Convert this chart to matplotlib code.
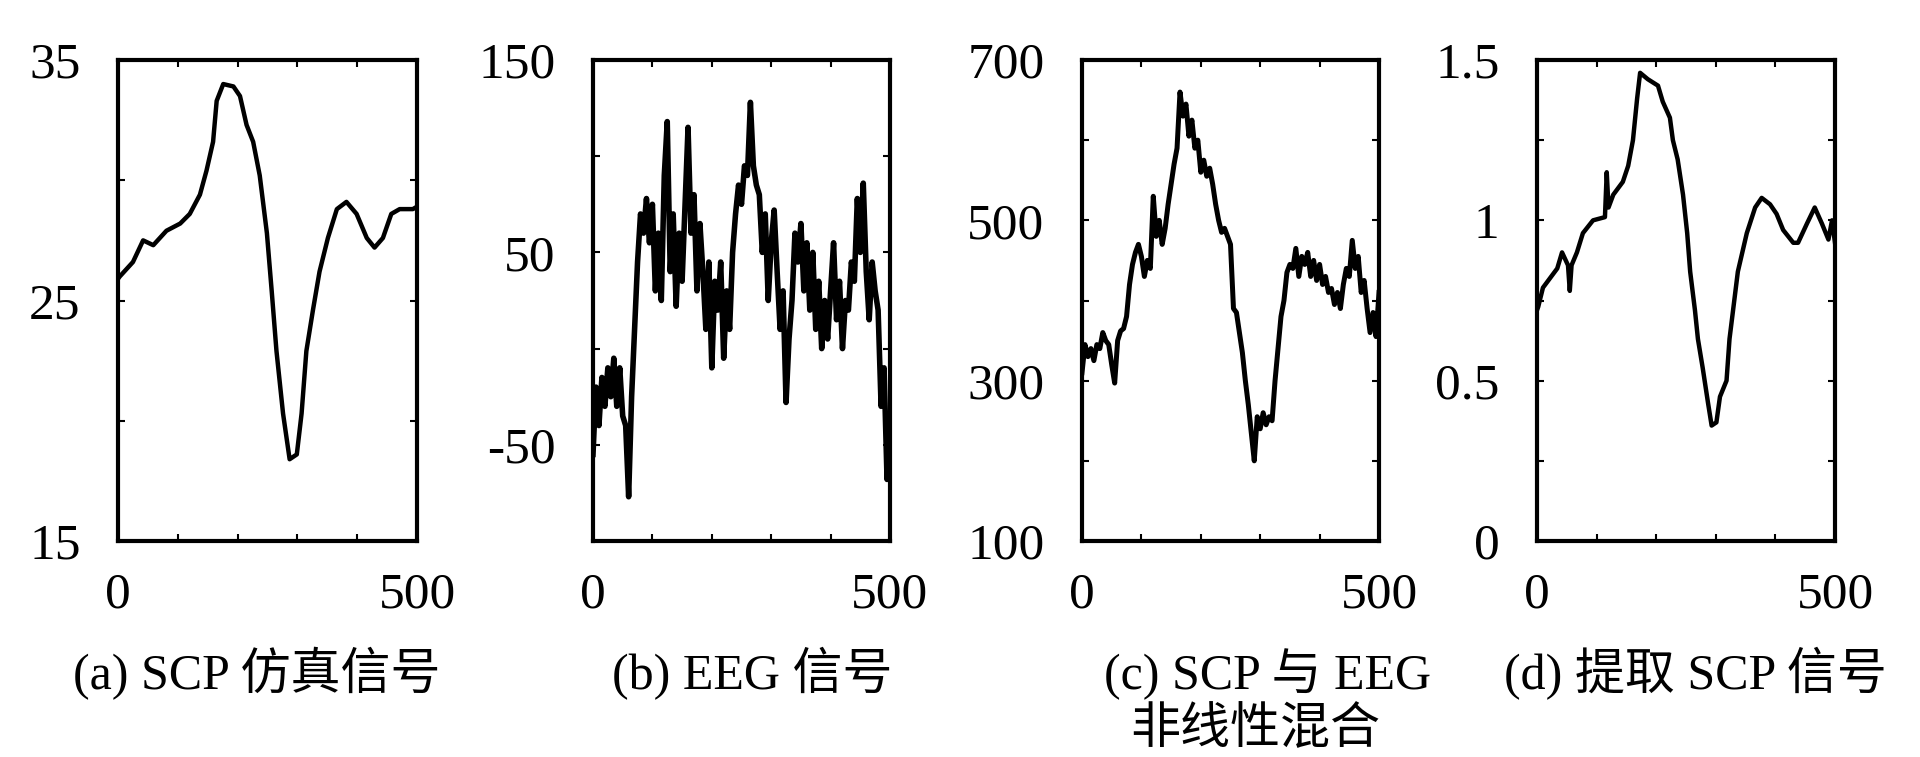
import matplotlib
matplotlib.use('Agg')
from matplotlib import pyplot as plt
from matplotlib.ticker import FormatStrFormatter

# (a) SCP 仿真信号
scp_x = [0, 3, 25, 42, 59, 81, 104, 120, 137, 148, 159, 165, 176, 193, 204, 215, 226, 237,
         249, 257, 265, 276, 287, 299, 307, 315, 326, 337, 351, 366, 382, 399, 416, 429,
         443, 457, 471, 493, 500]
scp_y = [25.9, 26.0, 26.6, 27.5, 27.3, 27.9, 28.2, 28.6, 29.4, 30.4, 31.6, 33.3, 34.0, 33.9,
         33.5, 32.3, 31.6, 30.2, 27.8, 25.4, 22.9, 20.3, 18.4, 18.6, 20.3, 22.9, 24.6, 26.2,
         27.6, 28.8, 29.1, 28.6, 27.6, 27.2, 27.6, 28.6, 28.8, 28.8, 28.9]

# (b) EEG 信号, 每 5 个采样点读一个值
eeg_y = [-55, -20, -40, -15, -30, -10, -25, -5, -30, -10,
         -35, -40, -77, -25, 10, 45, 70, 60, 78, 55,
         75, 30, 60, 25, 90, 118, 40, 70, 22, 60,
         35, 75, 115, 60, 80, 30, 65, 40, 10, 45,
         -10, 35, 20, 45, -5, 30, 10, 50, 70, 85,
         75, 95, 90, 128, 95, 85, 80, 50, 70, 25,
         55, 72, 40, 10, 30, -28, 5, 25, 60, 45,
         65, 30, 55, 20, 50, 10, 35, 0, 25, 5,
         30, 55, 15, 35, 0, 25, 20, 45, 35, 78,
         50, 86, 40, 15, 45, 30, 20, -30, -10, -68,
         -45]

# (c) SCP 与 EEG 非线性混合, 每 5 个采样点
mix_y = [310, 345, 330, 340, 325, 345, 340, 360, 350, 345,
         320, 297, 350, 362, 365, 380, 420, 445, 460, 470,
         455, 430, 450, 440, 530, 480, 500, 470, 490, 520,
         545, 570, 590, 660, 630, 645, 605, 625, 590, 600,
         560, 575, 555, 565, 545, 520, 500, 485, 490, 480,
         470, 390, 385, 360, 335, 300, 270, 235, 200, 255,
         240, 260, 245, 255, 250, 300, 340, 380, 400, 435,
         445, 440, 465, 430, 455, 445, 460, 430, 450, 425,
         445, 420, 430, 410, 415, 395, 410, 390, 420, 440,
         430, 475, 440, 455, 410, 425, 390, 360, 385, 355,
         410]

# (d) 提取 SCP 信号
ext_x = [0, 2, 10, 22, 34, 42, 52, 55, 58, 67, 77, 94, 114, 117, 120, 128, 144, 153, 161,
         168, 173, 186, 203, 211, 223, 228, 236, 245, 252, 257, 265, 270, 278, 287, 293,
         301, 307, 318, 323, 329, 337, 352, 366, 377, 391, 402, 413, 430, 438, 453, 466,
         478, 489, 495, 500]
ext_y = [0.72, 0.73, 0.79, 0.82, 0.85, 0.90, 0.86, 0.78, 0.86, 0.90, 0.96, 1.00, 1.01, 1.15,
         1.04, 1.08, 1.12, 1.17, 1.25, 1.38, 1.46, 1.44, 1.42, 1.37, 1.32, 1.25, 1.19, 1.08,
         0.96, 0.84, 0.72, 0.63, 0.54, 0.43, 0.36, 0.37, 0.45, 0.50, 0.63, 0.72, 0.84, 0.96,
         1.04, 1.07, 1.05, 1.02, 0.97, 0.93, 0.93, 0.99, 1.04, 0.99, 0.94, 1.00, 0.93]

step_x = list(range(0, 501, 5))

captions = ['(a) SCP 仿真信号', '(b) EEG 信号', '(c) SCP 与 EEG', '(d) 提取 SCP 信号']
caption_x = [257, 752, 1268, 1695]

plt.rcParams['font.family'] = ['Liberation Serif', 'Noto Sans CJK SC', 'DejaVu Sans']

fig = plt.figure(figsize=(19.2, 7.57), dpi=100)

# 四个子图的位置 (像素 -> 比例)
lefts = [118, 593, 1082, 1537]
widths = [299, 297, 297, 298]
bottom = 1 - 541 / 757
height = 481 / 757

panels = [
    (scp_x, scp_y, (15, 35), [15, 25, 35], [20, 30], 3.2),
    (step_x, eeg_y, (-100, 150), [-50, 50, 150], [-100, 0, 100], 4.0),
    (step_x, mix_y, (100, 700), [100, 300, 500, 700], [200, 400, 600], 3.6),
    (ext_x, ext_y, (0, 1.5), [0, 0.5, 1, 1.5], [0.25, 0.75, 1.25], 3.2),
]

for i, (xs, ys, ylim, ymaj, ymin, lw) in enumerate(panels):
    ax = fig.add_axes([lefts[i] / 1920, bottom, widths[i] / 1920, height])
    ax.plot(xs, ys, color='black', linewidth=lw)
    ax.set_xlim(0, 500)
    ax.set_ylim(*ylim)
    ax.set_xticks([0, 500])
    ax.set_xticks([100, 200, 300, 400], minor=True)
    ax.set_yticks(ymaj)
    ax.set_yticks(ymin, minor=True)
    ax.yaxis.set_major_formatter(FormatStrFormatter('%g'))
    ax.tick_params(which='both', direction='in', top=True, right=True,
                   length=5, width=1.5, labelsize=37)
    ax.tick_params(axis='y', which='major', pad=27)
    ax.tick_params(axis='x', which='major', pad=22)
    for s in ax.spines.values():
        s.set_linewidth(3.0)

    fig.text(caption_x[i] / 1920, 1 - 674 / 757, captions[i], fontsize=36,
             ha='center', va='center')

# (c) 的第二行
fig.text(1255 / 1920, 1 - 731 / 757, '非线性混合', fontsize=36, ha='center', va='center')

plt.savefig('out.png', dpi=100)
